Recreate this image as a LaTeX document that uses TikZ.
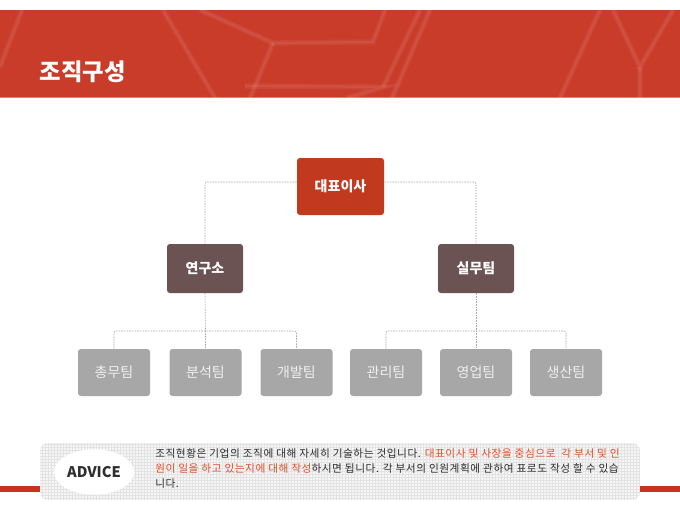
\documentclass[tikz,border=0pt]{standalone}
\usepackage{fontspec}
\newfontfamily\kr{Noto Sans CJK KR}
\newfontfamily\krsp[LetterSpace=5]{Noto Sans CJK KR}
\usetikzlibrary{calc,shapes.geometric}
\definecolor{hdr}{HTML}{CA3C2A}
\definecolor{ceoc}{HTML}{C13A20}
\definecolor{midc}{HTML}{6A5352}
\definecolor{kidc}{HTML}{A7A7A7}
\definecolor{kidt}{HTML}{EFEFEF}
\definecolor{linec}{HTML}{A8A8A8}
\definecolor{orng}{HTML}{E2502C}
\definecolor{txtc}{HTML}{2E2E2E}
\definecolor{gridc}{HTML}{E3E3E3}
\definecolor{boxc}{HTML}{F6F6F6}
\definecolor{barc}{HTML}{C8321E}
\tikzset{
  ceobox/.style={fill=ceoc, rounded corners=2.2pt, inner sep=0pt,
    minimum width=65.25pt, minimum height=42.75pt, text=white,
    font=\kr\bfseries\fontsize{10.5}{12}\selectfont},
  midbox/.style={fill=midc, rounded corners=2.2pt, inner sep=0pt,
    minimum width=57pt, minimum height=36.75pt, text=white,
    font=\kr\bfseries\fontsize{10.5}{12}\selectfont},
  kidbox/.style={fill=kidc, rounded corners=2.2pt, inner sep=0pt,
    minimum width=54pt, minimum height=35.25pt, text=kidt,
    font=\kr\fontsize{10.5}{12}\selectfont},
  conn/.style={draw=linec, line width=0.45pt, dash pattern=on 1.2pt off 0.8pt, rounded corners=1.5pt},
  webline/.style={draw=white, draw opacity=0.06, line width=4pt},
  webcore/.style={draw=white, draw opacity=0.06, line width=1.5pt}
}
\begin{document}
\begin{tikzpicture}[x=0.75pt,y=-0.75pt]
\useasboundingbox (0,0) rectangle (680,510);
\fill[white] (0,0) rectangle (680,510);
% header band
\fill[hdr] (0,10) rectangle (680,98);
\begin{scope}
\clip (0,10) rectangle (680,98);
\foreach \s in {webline,webcore}{
\draw[\s] (0,67) -- (22,10);
\draw[\s] (200,10) -- (273,43) -- (373,42) -- (385,10);
\draw[\s] (273,43) -- (250,98);
\draw[\s] (245,86) -- (383,87) -- (347,98);
\draw[\s] (383,87) -- (420,10);
\draw[\s] (430,10) -- (392,98);
\draw[\s] (163,10) -- (215,98);
\draw[\s] (613,10) -- (640,67) -- (673,10);
\draw[\s] (640,67) -- (640,98);
\draw[\s] (560,98) -- (600,10);
}
\end{scope}
\fill[white, opacity=0.35] (0,97) rectangle (680,98.5);
\node[anchor=west, text=white, font=\kr\bfseries\fontsize{17.5}{20}\selectfont] (title) at (35,72) {조직구성};
% org chart
\node[ceobox] (ceo) at (340.5,186.5) {대표이사};
\node[midbox] (lab) at (205,268.5) {연구소};
\node[midbox] (ops) at (476,268.5) {실무팀};
\node[kidbox] (k1) at (114,372.5) {총무팀};
\node[kidbox] (k2) at (205.5,372.5) {분석팀};
\node[kidbox] (k3) at (296.5,372.5) {개발팀};
\node[kidbox] (k4) at (386,372.5) {관리팀};
\node[kidbox] (k5) at (476,372.5) {영업팀};
\node[kidbox] (k6) at (566,372.5) {생산팀};
\coordinate (lb) at (205.5,331);
\coordinate (rb) at (476,331);
\draw[conn] ([yshift=3.4pt]ceo.west) -| (lab.north);
\draw[conn] ([yshift=3.4pt]ceo.east) -| (ops.north);
\draw[conn] (lab.south) -- (lb) -- (k2.north);
\draw[conn] (k1.north) |- (lb) -| (k3.north);
\draw[conn] (ops.south) -- (rb) -- (k5.north);
\draw[conn] (k4.north) |- (rb) -| (k6.north);
% advice area
\fill[barc] (0,486) rectangle (40,492);
\fill[barc] (640,486) rectangle (680,492);
\begin{scope}
\clip[rounded corners=6pt] (40,443) rectangle (640,500);
\fill[boxc] (40,443) rectangle (640,500);
\draw[gridc, line width=0.3pt, step=2.25pt] (40,443) grid (640,500);
\end{scope}
\node[ellipse, fill=white, inner sep=0pt, minimum width=60pt, minimum height=34pt,
  text=txtc, font=\kr\bfseries\fontsize{11}{13}\selectfont] (adv) at (94,472) {ADVICE};
\node[anchor=north west, align=left, inner sep=0pt, text=txtc,
  font=\krsp\fontsize{8}{11.25}\selectfont] (advtxt) at (155,448.5)
  {조직현황은 기업의 조직에 대해 자세히 기술하는 것입니다. \textcolor{orng}{대표이사 및 사장을 중심으로\ \ 각 부서 및 인}\\
   \textcolor{orng}{원이 일을 하고 있는지에 대해 작성}하시면 됩니다. 각 부서의 인원계획에 관하여 표로도 작성 할 수 있습\\
   니다.};
\end{tikzpicture}
\end{document}
